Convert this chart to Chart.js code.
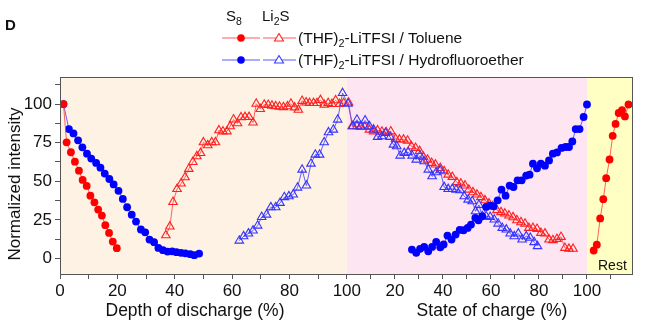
<!DOCTYPE html>
<html>
<head>
<meta charset="utf-8">
<script src="https://cdn.jsdelivr.net/npm/chart.js@4.4.1/dist/chart.umd.min.js"></script>
<style>
  body { margin: 0; background: #fff; }
  #wrap { position: relative; width: 668px; height: 325px; font-family: "Liberation Sans", Arial, sans-serif; color: #111; }
  #c { position: absolute; left: 0; top: 0; }
  .t { position: absolute; white-space: nowrap; font-size: 15px; line-height: 18px; }
  .t sub { font-size: 70%; vertical-align: baseline; position: relative; top: 0.35em; line-height: 0; }
  .lg { font-size: 15.5px; }
  .xt { font-size: 17.5px; width: 260px; text-align: center; }
  .yt { font-size: 17px; width: 240px; text-align: center; left: -105px; top: 175px; transform: rotate(-90deg); }
</style>
</head>
<body>
<div id="wrap">
  <canvas id="c" width="668" height="325"></canvas>
  <div class="t" style="left:5px;top:16px;font-weight:bold;font-size:15px">D</div>
  <div class="t" style="left:226px;top:7px">S<sub>8</sub></div>
  <div class="t" style="left:262px;top:7px">Li<sub>2</sub>S</div>
  <svg style="position:absolute;left:220px;top:30px" width="80" height="40">
    <line x1="2" y1="8" x2="40" y2="8" stroke="#ff5a5a" stroke-width="1.2"/>
    <circle cx="21" cy="8" r="3.8" fill="#ff0000"/>
    <line x1="43" y1="8" x2="76" y2="8" stroke="#ff5a5a" stroke-width="1.2"/>
    <polygon points="59,3.5 63.5,11 54.5,11" fill="#fff" stroke="#ff2020" stroke-width="1.1"/>
    <line x1="2" y1="30" x2="40" y2="30" stroke="#5a5aff" stroke-width="1.2"/>
    <circle cx="21" cy="30" r="3.8" fill="#0000ff"/>
    <line x1="43" y1="30" x2="76" y2="30" stroke="#5a5aff" stroke-width="1.2"/>
    <polygon points="59,25.5 63.5,33 54.5,33" fill="#fff" stroke="#3a3aff" stroke-width="1.1"/>
  </svg>
  <div class="t lg" style="left:298px;top:29px">(THF)<sub>2</sub>-LiTFSI / Toluene</div>
  <div class="t lg" style="left:298px;top:51px">(THF)<sub>2</sub>-LiTFSI / Hydrofluoroether</div>
  <div class="t yt">Normalized intensity</div>
  <div class="t xt" style="left:65px;top:301px">Depth of discharge (%)</div>
  <div class="t xt" style="left:362px;top:301px">State of charge (%)</div>
  <div class="t" style="left:598px;top:256px;font-size:14px">Rest</div>
</div>
<script>
// S8, (THF)2-LiTFSI / Toluene  (red dots)
const s8TolDisX = [1.2, 2.3, 3.8, 5.2, 6.6, 7.9, 9.3, 10.6, 12.0, 13.3, 14.6, 15.8, 17.1, 18.4, 19.8];
const s8TolDisY = [100, 75.2, 68.8, 62.7, 56.9, 50.9, 47, 40.7, 36.4, 31.7, 27.8, 21.6, 16.6, 11, 6.7];
// rest, drawn on the state-of-charge scale after 100
const s8TolRestX = [102.8, 104.1, 105.5, 106.8, 108.0, 109.4, 110.7, 111.9, 113.2, 114.6, 115.8, 117.3];
const s8TolRestY = [5.2, 9.0, 26.0, 38.4, 52.0, 64.1, 79.4, 87.1, 94.2, 96.1, 92.0, 99.7];

// S8, (THF)2-LiTFSI / Hydrofluoroether  (blue dots)
const s8HfeDisX = [1.2, 3.1, 4.7, 6.3, 7.8, 9.4, 10.9, 12.6, 14.1, 15.6, 17.2, 18.7, 20.4, 21.9, 23.4, 25.0, 26.5, 28.2, 29.7, 31.2,
  32.8, 34.3, 35.9, 37.5, 39.1, 40.6, 42.2, 43.7, 45.4, 46.8, 48.5];
const s8HfeDisY = [100, 83.8, 81, 76.5, 72, 67.9, 64.7, 61.9, 58.8, 55, 51.5, 48, 43.8, 38.6, 33.2, 28.4, 23.9, 18.8, 17, 12.3,
  10.6, 6.9, 5.4, 4.5, 4.7, 4.1, 3.7, 3.4, 2.8, 2.2, 3.2];
const s8HfeChgX = [27.1, 28.9, 30.5, 32.2, 33.9, 35.5, 37.2, 38.9, 40.3, 41.9, 43.6, 45.3, 47.0, 48.6, 50.3, 51.7, 53.5, 54.8, 56.4, 58.0,
  59.7, 61.1, 62.8, 64.4, 66.1, 67.8, 69.4, 71.1, 72.8, 74.7, 76.1, 77.5, 79.2, 80.8, 82.5, 84.2, 85.8, 87.5, 89.4, 91.1,
  92.5, 93.9, 95.3, 96.9, 98.6, 100];
const s8HfeChgY = [5.8, 3.7, 6.3, 7.5, 4.7, 7.5, 10.8, 7.3, 9.1, 14.9, 12.3, 15.5, 18.5, 18.3, 19.8, 22, 26.3, 24.8, 27.3, 33.4,
  34.3, 33.8, 37.7, 44.6, 40.7, 47.2, 46.3, 50.6, 50.6, 53.7, 54.3, 61.4, 58.4, 61.4, 60.1, 63.5, 67.9, 68.7, 71.6, 72.2,
  72.2, 75.8, 83.8, 83.8, 91.6, 99.7];

// Li2S, (THF)2-LiTFSI / Toluene  (red triangles)
const li2sTolDisX = [36.9, 38.3, 39.4, 40.8, 42.2, 43.6, 44.9, 46.3, 47.7, 49.0, 50.0, 51.5, 52.9, 54.2, 55.4, 56.8, 58.2, 59.3, 60.5, 61.9,
  63.1, 64.5, 65.9, 67.3, 68.4, 69.8, 71.2, 72.6, 73.9, 75.2, 76.5, 77.9, 79.3, 80.5, 81.8, 83.1, 84.4, 85.8, 87.0, 88.4,
  89.6, 90.8, 92.1, 93.5, 94.8, 96.1, 97.5, 98.9];
const li2sTolDisY = [15, 20.7, 36.6, 45, 48.5, 52.6, 58, 62.5, 66.2, 68.3, 75.2, 73.3, 75.2, 75.2, 83, 82.3, 82.3, 85.6, 90, 87.5,
  91.4, 91.6, 91.6, 88, 100.2, 96.8, 99.6, 99.4, 98.9, 98.5, 98.3, 98, 98.5, 100.2, 97.8, 96.3, 102, 101, 100.6, 100.6,
  100.6, 102.6, 99.6, 100.6, 100, 102.4, 100, 100.6];
const li2sTolChgX = [0.7, 2.2, 4.2, 5.8, 7.5, 9.4, 11.1, 12.8, 14.6, 16.4, 18.3, 20.3, 21.9, 23.6, 25.3, 26.9, 28.6, 30.3, 31.9, 33.6,
  35.3, 36.9, 38.9, 40.5, 42.2, 43.9, 45.8, 47.5, 49.2, 50.8, 52.5, 54.2, 55.8, 57.5, 59.2, 60.8, 62.5, 64.2, 65.8, 67.5,
  69.2, 70.8, 72.5, 74.2, 75.8, 77.5, 79.2, 80.8, 82.5, 84.2, 85.8, 87.5, 89.2, 90.8, 92.5, 94.2];
const li2sTolChgY = [101, 85.6, 85.6, 85.1, 85.1, 83.4, 82.3, 83.0, 82.1, 81.7, 82.3, 77.4, 77, 77, 76.3, 72.6, 71.6, 69.6, 65.7, 64,
  61.9, 60.8, 58.6, 56.5, 54.3, 52.8, 49.4, 48.5, 47.2, 44.6, 42.9, 41.4, 39.7, 37.7, 35.6, 33.8, 31.3, 30, 29.1, 27.8,
  26.7, 24.8, 23.5, 22.6, 19.8, 19.8, 19.2, 16.6, 16.2, 12.3, 11.9, 12.7, 14, 6.9, 6.3, 6.3];

// Li2S, (THF)2-LiTFSI / Hydrofluoroether  (blue triangles)
const li2sHfeDisX = [62.5, 64.0, 65.7, 67.3, 68.9, 70.3, 72.0, 73.5, 75.2, 76.7, 78.2, 79.8, 81.3, 82.8, 84.4, 85.9, 87.5, 89.0, 90.5, 92.1,
  93.6, 95.3, 96.8, 98.5];
const li2sHfeDisY = [11.6, 14.4, 16.2, 18.1, 21.3, 26.9, 28.4, 33.2, 33.2, 36, 39.7, 40.3, 41.4, 45.9, 57.5, 47.2, 61.4, 67.2, 67.2, 75.2,
  81.7, 83.4, 89.9, 107.1];
const li2sHfeChgX = [0.5, 2.5, 4.2, 5.8, 7.6, 9.4, 11.1, 12.8, 14.6, 16.1, 18.0, 19.4, 20.8, 22.2, 23.9, 25.5, 27.2, 28.9, 30.5, 32.2,
  33.9, 35.5, 37.2, 38.9, 40.5, 42.2, 43.9, 45.5, 47.2, 48.9, 50.5, 52.2, 53.6, 55.0, 56.4, 58.0, 59.7, 61.4, 63.0, 64.7,
  66.4, 68.0, 69.7, 71.4, 73.0, 74.7, 76.4, 78.0, 79.4];
const li2sHfeChgY = [100.2, 85.6, 89.9, 85.6, 89.4, 85.6, 83.5, 78.7, 79.1, 81.3, 78.7, 73.7, 72.6, 66.6, 68.3, 68.8, 66.6, 64, 66.6, 62.9,
  57.5, 53.2, 55.8, 57.1, 46.3, 45, 45, 44.6, 44.2, 40.3, 38.1, 37.1, 30.6, 34.7, 27.4, 27.4, 26.9, 25.2, 22.6, 19.8,
  18.8, 16.2, 14.4, 16.2, 12.3, 14.4, 13.4, 10.6, 8.0];

// axis ticks
const dischargeTicks = [0, 10, 20, 30, 40, 50, 60, 70, 80, 90, 100];
const chargeTicks = [10, 20, 30, 40, 50, 60, 70, 80, 90, 100, 110];
const yTicks = [0, 12.5, 25, 37.5, 50, 62.5, 75, 87.5, 100, 112.5];

// the charge part of the axis is squeezed: 100 % charge spans fewer pixels than 100 % discharge
const chgScale = 240 / 286.7;
const chgMax = 118.75;
function chgToAxis(c) { return 100 + c * chgScale; }

function pts(xs, ys, f) {
  return xs.map((x, i) => ({ x: f ? f(x) : x, y: ys[i] }));
}

const xTickList = dischargeTicks.map(d => ({ value: d, label: d % 20 === 0 ? String(d) : '' }))
  .concat(chargeTicks.map(c => ({ value: chgToAxis(c), label: (c % 20 === 0 && c <= 100) ? String(c) : '' })));
const yTickList = yTicks.map(v => ({ value: v, label: v % 25 === 0 ? String(v) : '' }));

const redLine = 'rgba(255,70,70,0.85)';
const blueLine = 'rgba(70,70,255,0.85)';

function dots(data, fill, line) {
  return {
    data: data, showLine: true, borderColor: line, borderWidth: 1,
    pointStyle: 'circle', pointRadius: 3.9, pointBackgroundColor: fill, pointBorderColor: fill, pointBorderWidth: 0
  };
}
function tris(data, stroke, line) {
  return {
    data: data, showLine: true, borderColor: line, borderWidth: 1,
    pointStyle: 'triangle', pointRadius: 4.9, pointBackgroundColor: 'rgba(0,0,0,0)', pointBorderColor: stroke, pointBorderWidth: 1.1
  };
}

const bands = {
  id: 'bands',
  beforeDraw(chart) {
    const { ctx, chartArea: a, scales: { x } } = chart;
    const parts = [
      [0, chgToAxis(0), '#fdf2e3'],
      [chgToAxis(0), chgToAxis(100), '#fde5f1'],
      [chgToAxis(100), chgToAxis(chgMax), '#ffffc3']
    ];
    ctx.save();
    parts.forEach(p => {
      const x0 = x.getPixelForValue(p[0]), x1 = x.getPixelForValue(p[1]);
      ctx.fillStyle = p[2];
      ctx.fillRect(x0, a.top, x1 - x0, a.bottom - a.top);
    });
    ctx.restore();
  },
  afterDraw(chart) {
    const { ctx, chartArea: a } = chart;
    ctx.save();
    ctx.strokeStyle = '#555';
    ctx.lineWidth = 1;
    ctx.strokeRect(Math.round(a.left) + 0.5, Math.round(a.top) + 0.5, Math.round(a.right - a.left), Math.round(a.bottom - a.top));
    ctx.restore();
  }
};

const tickFont = { family: '"Liberation Sans", Arial, sans-serif', size: 17 };

new Chart(document.getElementById('c'), {
  type: 'line',
  data: {
    datasets: [
      dots(pts(s8TolDisX, s8TolDisY), '#ff0000', redLine),
      dots(pts(s8TolRestX, s8TolRestY, chgToAxis), '#ff0000', redLine),
      dots(pts(s8HfeDisX, s8HfeDisY), '#0000ff', blueLine),
      dots(pts(s8HfeChgX, s8HfeChgY, chgToAxis), '#0000ff', blueLine),
      tris(pts(li2sHfeDisX, li2sHfeDisY).concat(pts(li2sHfeChgX, li2sHfeChgY, chgToAxis)), '#3434ff', blueLine),
      tris(pts(li2sTolDisX, li2sTolDisY).concat(pts(li2sTolChgX, li2sTolChgY, chgToAxis)), '#ff2020', redLine)
    ]
  },
  options: {
    responsive: false,
    animation: false,
    devicePixelRatio: 1,
    layout: { padding: { top: 77, right: 36, bottom: 0, left: 0 } },
    plugins: { legend: { display: false }, tooltip: { enabled: false } },
    scales: {
      x: {
        type: 'linear',
        min: 0,
        max: chgToAxis(chgMax),
        afterBuildTicks: s => { s.ticks = xTickList.map(t => ({ value: t.value })); },
        afterFit: s => { s.height = 51; },
        ticks: {
          autoSkip: false, maxRotation: 0, padding: 2, color: '#111', font: tickFont,
          callback: (v, i) => xTickList[i] ? xTickList[i].label : ''
        },
        grid: { drawOnChartArea: false, drawTicks: true, tickLength: 5, tickColor: '#555' },
        border: { display: true, color: '#555', width: 1 }
      },
      y: {
        type: 'linear',
        min: -10,
        max: 117.5,
        afterBuildTicks: s => { s.ticks = yTickList.map(t => ({ value: t.value })); },
        afterFit: s => { s.width = 60; },
        ticks: {
          autoSkip: false, padding: 3, color: '#111', font: tickFont,
          callback: (v, i) => yTickList[i] ? yTickList[i].label : ''
        },
        grid: { drawOnChartArea: false, drawTicks: true, tickLength: 5, tickColor: '#555' },
        border: { display: true, color: '#555', width: 1 }
      }
    }
  },
  plugins: [bands]
});
</script>
</body>
</html>
